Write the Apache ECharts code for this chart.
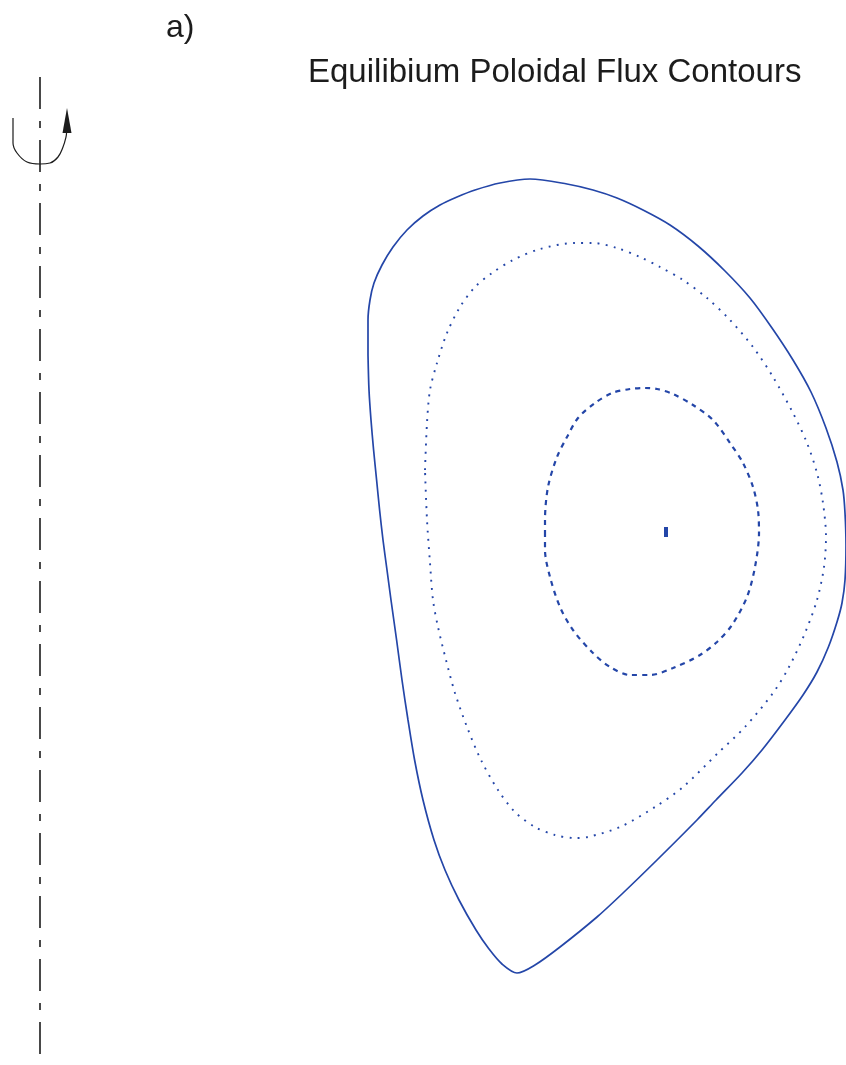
<!DOCTYPE html>
<html>
<head>
<meta charset="utf-8">
<title>Equilibium Poloidal Flux Contours</title>
<script src="https://cdn.jsdelivr.net/npm/echarts/dist/echarts.min.js"></script>
<style>
  html, body { margin: 0; padding: 0; background: #fff; }
  #chart { width: 846px; height: 1065px; }
</style>
</head>
<body>
<div id="chart"></div>
<script>
// Poloidal cross-section, coordinates (R, Z) in metres; R = 0 is the symmetry axis.

// Last closed flux surface (solid)
const boundary = [
  [1.640, 0.885], [1.640, 1.060], [1.650, 1.160], [1.670, 1.245], [1.710, 1.335],
  [1.765, 1.425], [1.835, 1.510], [1.915, 1.580], [2.000, 1.635], [2.085, 1.675],
  [2.175, 1.710], [2.300, 1.745], [2.450, 1.765], [2.635, 1.740], [2.765, 1.710],
  [2.885, 1.670], [3.015, 1.610], [3.150, 1.535], [3.290, 1.430], [3.425, 1.305],
  [3.550, 1.170], [3.660, 1.020], [3.765, 0.860], [3.855, 0.700], [3.930, 0.520],
  [3.985, 0.350], [4.015, 0.210], [4.025, 0.095], [4.030, -0.065], [4.025, -0.240],
  [4.010, -0.355], [3.985, -0.450], [3.942, -0.575], [3.885, -0.700], [3.815, -0.815],
  [3.725, -0.940], [3.610, -1.090], [3.510, -1.205], [3.380, -1.340], [3.285, -1.440],
  [3.085, -1.640], [2.915, -1.805], [2.785, -1.925], [2.600, -2.075], [2.475, -2.165],
  [2.385, -2.205], [2.310, -2.160], [2.245, -2.085], [2.180, -1.990], [2.095, -1.840],
  [2.025, -1.690], [1.970, -1.540], [1.915, -1.340], [1.873, -1.140], [1.840, -0.940],
  [1.810, -0.740], [1.783, -0.540], [1.755, -0.340], [1.735, -0.190], [1.715, -0.040],
  [1.698, 0.110], [1.683, 0.260], [1.668, 0.410], [1.655, 0.560], [1.645, 0.710],
  [1.640, 0.885]
];

// Intermediate flux surface (dotted)
const midSurface = [
  [1.925, 0.310], [1.935, 0.545], [1.950, 0.710], [1.985, 0.845], [2.035, 0.995],
  [2.100, 1.125], [2.175, 1.225], [2.260, 1.295], [2.365, 1.360], [2.500, 1.415],
  [2.675, 1.445], [2.765, 1.445], [2.885, 1.420], [3.000, 1.375], [3.100, 1.325],
  [3.215, 1.260], [3.335, 1.170], [3.450, 1.060], [3.565, 0.925], [3.665, 0.775],
  [3.765, 0.595], [3.835, 0.445], [3.885, 0.295], [3.915, 0.145], [3.930, -0.025],
  [3.920, -0.175], [3.885, -0.340], [3.825, -0.505], [3.745, -0.675], [3.665, -0.805],
  [3.525, -0.975], [3.390, -1.105], [3.215, -1.275], [3.075, -1.375], [2.900, -1.475],
  [2.740, -1.525], [2.675, -1.530], [2.575, -1.515], [2.475, -1.475], [2.375, -1.400],
  [2.290, -1.290], [2.205, -1.140], [2.135, -0.975], [2.075, -0.805], [2.030, -0.640],
  [1.990, -0.475], [1.965, -0.340], [1.950, -0.155], [1.935, 0.060], [1.925, 0.310]
];

// Inner flux surface (dashed)
const coreSurface = [
  [2.525, -0.015], [2.525, 0.060], [2.540, 0.225], [2.585, 0.375], [2.635, 0.475],
  [2.690, 0.570], [2.775, 0.645], [2.860, 0.695], [2.950, 0.715], [3.025, 0.720],
  [3.085, 0.715], [3.165, 0.690], [3.265, 0.635], [3.365, 0.560], [3.450, 0.445],
  [3.515, 0.345], [3.565, 0.225], [3.590, 0.110], [3.595, -0.005], [3.575, -0.175],
  [3.535, -0.325], [3.460, -0.465], [3.385, -0.550], [3.300, -0.615], [3.165, -0.680],
  [3.050, -0.715], [2.950, -0.715], [2.850, -0.675], [2.765, -0.605], [2.665, -0.490],
  [2.600, -0.375], [2.550, -0.225], [2.525, -0.090], [2.525, -0.015]
];

// Magnetic axis
const magneticAxis = [[3.130, 0.000]];

// Symmetry (rotation) axis, drawn top to bottom
const symmetryAxis = [[0, 2.275], [0, -2.70]];

// Toroidal rotation sign around the symmetry axis
const rotationArc = [
  [-0.135, 2.070], [-0.135, 1.945], [-0.115, 1.895], [-0.065, 1.850], [0.000, 1.840],
  [0.050, 1.845], [0.090, 1.875], [0.115, 1.925], [0.130, 1.975], [0.133, 2.000]
];
const rotationHead = [[0.135, 2.057]];

const titleText = 'Equilibium Poloidal Flux Contours';
const panelLabel = 'a)';

const blue = '#2446a8';
const ink = '#1c1c1c';

const chart = echarts.init(document.getElementById('chart'), null, { renderer: 'canvas' });

chart.setOption({
  animation: false,
  backgroundColor: '#ffffff',
  grid: { left: 0, right: 0, top: 0, bottom: 0 },
  xAxis: { type: 'value', min: -0.2, max: 4.03, show: false },
  yAxis: { type: 'value', min: -2.665, max: 2.66, show: false },
  graphic: [
    {
      type: 'text', left: 308, top: 56,
      style: {
        text: titleText, fill: ink,
        fontSize: 33, fontFamily: 'Liberation Sans', fontWeight: 'normal'
      }
    },
    {
      type: 'text', left: 166, top: 12,
      style: {
        text: panelLabel, fill: ink,
        fontSize: 32, fontFamily: 'Liberation Sans', fontWeight: 'normal'
      }
    }
  ],
  series: [
    {
      name: 'symmetry axis', type: 'line', data: symmetryAxis, clip: false,
      showSymbol: false, silent: true,
      lineStyle: { color: ink, width: 1.6, type: [32, 12, 7, 12] }
    },
    {
      name: 'rotation', type: 'line', data: rotationArc, clip: false, smooth: 0.4,
      showSymbol: false, silent: true,
      lineStyle: { color: ink, width: 1.2 }
    },
    {
      name: 'rotation head', type: 'scatter', data: rotationHead, clip: false,
      symbol: 'triangle', symbolSize: [9, 25], silent: true,
      itemStyle: { color: ink, opacity: 1 }
    },
    {
      name: 'boundary', type: 'line', data: boundary, clip: false, smooth: 0.3,
      showSymbol: false, silent: true,
      lineStyle: { color: blue, width: 1.7 }
    },
    {
      name: 'mid surface', type: 'line', data: midSurface, clip: false, smooth: 0.3,
      showSymbol: false, silent: true,
      lineStyle: { color: blue, width: 1.9, type: [1.9, 6.3] }
    },
    {
      name: 'core surface', type: 'line', data: coreSurface, clip: false, smooth: 0.3,
      showSymbol: false, silent: true,
      lineStyle: { color: blue, width: 2.2, type: [5, 5] }
    },
    {
      name: 'magnetic axis', type: 'scatter', data: magneticAxis, clip: false,
      symbol: 'rect', symbolSize: [4, 10], silent: true,
      itemStyle: { color: blue, opacity: 1 }
    }
  ]
});
</script>
</body>
</html>
